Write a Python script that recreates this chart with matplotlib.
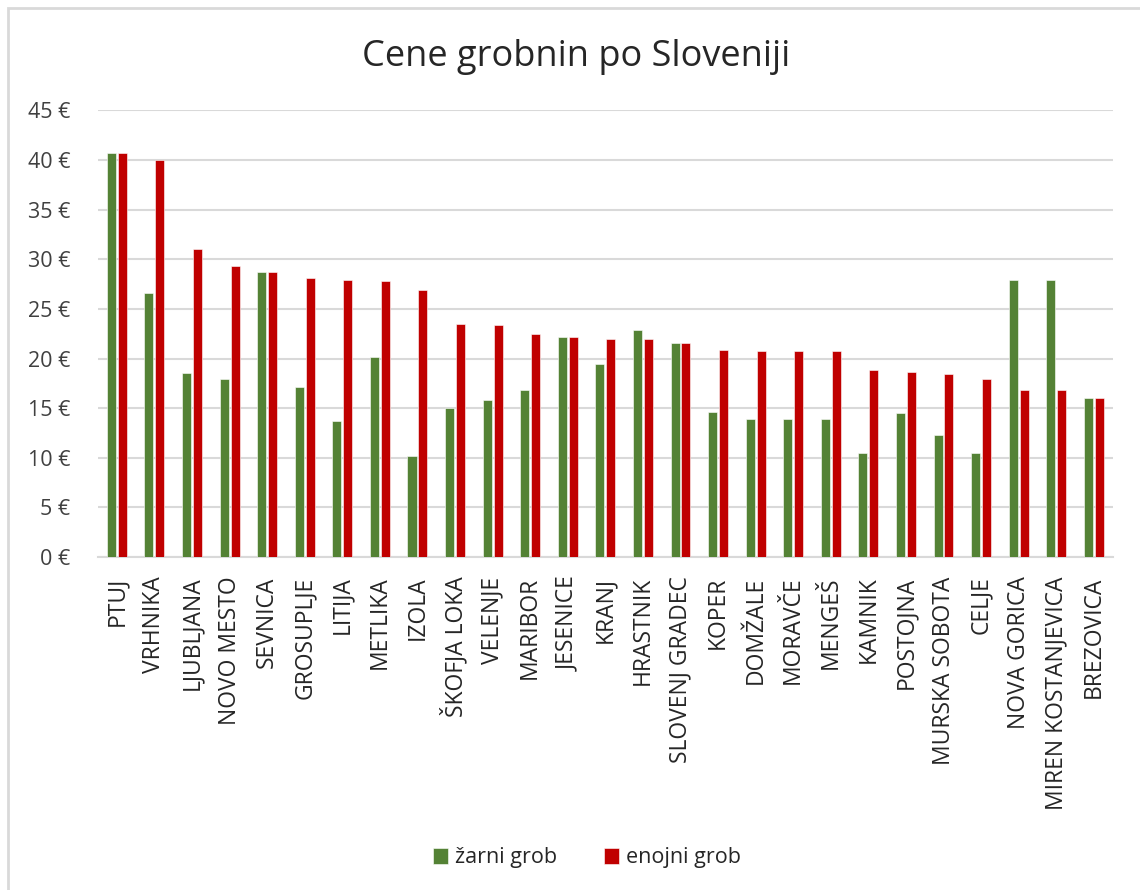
import matplotlib.pyplot as plt
import numpy as np
from matplotlib.patches import Rectangle

plt.rcParams['font.family'] = ['Open Sans', 'DejaVu Sans']

cities = ["PTUJ", "VRHNIKA", "LJUBLJANA", "NOVO MESTO", "SEVNICA", "GROSUPLJE",
          "LITIJA", "METLIKA", "IZOLA", "ŠKOFJA LOKA", "VELENJE", "MARIBOR",
          "JESENICE", "KRANJ", "HRASTNIK", "SLOVENJ GRADEC", "KOPER", "DOMŽALE",
          "MORAVČE", "MENGEŠ", "KAMNIK", "POSTOJNA", "MURSKA SOBOTA", "CELJE",
          "NOVA GORICA", "MIREN KOSTANJEVICA", "BREZOVICA"]
zarni = [40.7, 26.6, 18.5, 17.9, 28.7, 17.1, 13.7, 20.2, 10.2, 15.0, 15.8, 16.8,
         22.2, 19.5, 22.9, 21.6, 14.6, 13.9, 13.9, 13.9, 10.5, 14.5, 12.3, 10.5,
         27.9, 27.9, 16.0]
enojni = [40.7, 40.0, 31.0, 29.3, 28.7, 28.1, 27.9, 27.8, 26.9, 23.5, 23.4, 22.5,
          22.2, 22.0, 22.0, 21.6, 20.9, 20.8, 20.8, 20.8, 18.8, 18.6, 18.4, 17.9,
          16.8, 16.8, 16.0]
yticks = list(range(0, 50, 5))

GREEN = "#548235"
RED = "#C00000"
GRID = "#D9D9D9"

fig = plt.figure(figsize=(11.4, 8.9), dpi=100)
ax = fig.add_axes([0.086, 0.374, 0.890, 0.502])

x = np.arange(len(cities))
w = 0.24
ax.bar(x - 0.145, zarni, w, color=GREEN, edgecolor="white", linewidth=0.4,
       label="žarni grob", zorder=3)
ax.bar(x + 0.145, enojni, w, color=RED, edgecolor="white", linewidth=0.4,
       label="enojni grob", zorder=3)

ax.set_xlim(-0.5, len(cities) - 0.5)
ax.set_ylim(0, 45)
ax.set_yticks(yticks)
ax.set_yticklabels([f"{v} €" for v in yticks], fontsize=15.5, color="#404040")
ax.set_xticks(x)
ax.set_xticklabels(cities, rotation=90, fontsize=16.5, color="#262626")
ax.tick_params(axis="both", length=0)
ax.tick_params(axis="y", pad=20)
ax.tick_params(axis="x", pad=14)
ax.grid(axis="y", color=GRID, linewidth=1.5, zorder=0)
for s in ["top", "right", "left"]:
    ax.spines[s].set_visible(False)
ax.spines["bottom"].set_color(GRID)
ax.spines["bottom"].set_linewidth(1.5)

fig.text(0.505, 1 - 57 / 890, "Cene grobnin po Sloveniji", ha="center", va="center",
         fontsize=26, color="#262626")

fig.legend(loc="center", bbox_to_anchor=(0.515, 1 - 858 / 890), ncol=2, frameon=False,
           fontsize=15.5, handlelength=0.7, handleheight=0.7, handletextpad=0.3,
           columnspacing=2.2, labelcolor="#262626")

# chart-area frame (only top and left edge are visible in the screenshot)
fig.patches.append(Rectangle((8 / 1140, -0.1), 1.2, 1.1 - 8 / 890,
                             transform=fig.transFigure, fill=False,
                             edgecolor=GRID, linewidth=2))

fig.savefig("out.png", dpi=100)
